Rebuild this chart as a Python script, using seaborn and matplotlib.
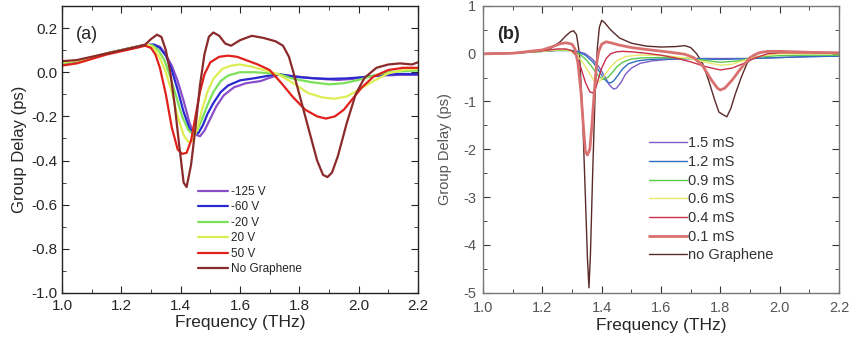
import numpy as np
import pandas as pd
import matplotlib.pyplot as plt
import seaborn as sns
from matplotlib.ticker import MultipleLocator

# ---- panel (a): gate voltage ----
a_labels = ['-125 V', '-60 V', '-20 V', '20 V', '50 V', 'No Graphene']
a_colors = ['#8A4FC8', '#2A2ACF', '#7CE05A', '#DDEE55', '#E0201B', '#8B2A2A']

a_x_m125 = [1.0, 1.05, 1.1, 1.15, 1.2, 1.25, 1.28, 1.31, 1.33, 1.345, 1.37, 1.39, 1.41, 1.43, 1.445, 1.465,
            1.48, 1.50, 1.52, 1.545, 1.58, 1.62, 1.67, 1.70, 1.73, 1.77, 1.81, 1.87, 1.93, 1.98, 2.03, 2.08,
            2.14, 2.2]
a_y_m125 = [0.04, 0.05, 0.065, 0.085, 0.1, 0.115, 0.123, 0.125, 0.115, 0.09, 0.03, -0.04, -0.13, -0.23, -0.28,
            -0.29, -0.265, -0.21, -0.155, -0.105, -0.068, -0.05, -0.04, -0.025, -0.012, -0.016, -0.022, -0.03,
            -0.035, -0.03, -0.02, -0.015, -0.012, -0.012]

a_x_m60 = [1.0, 1.05, 1.1, 1.15, 1.2, 1.25, 1.28, 1.31, 1.33, 1.35, 1.37, 1.39, 1.41, 1.43, 1.445, 1.46, 1.475,
           1.49, 1.51, 1.535, 1.56, 1.60, 1.65, 1.70, 1.73, 1.78, 1.84, 1.90, 1.96, 2.02, 2.08, 2.14, 2.2]
a_y_m60 = [0.04, 0.05, 0.065, 0.085, 0.1, 0.115, 0.123, 0.125, 0.11, 0.075, 0.01, -0.08, -0.18, -0.255, -0.28,
           -0.275, -0.24, -0.19, -0.14, -0.09, -0.06, -0.037, -0.027, -0.015, -0.008, -0.02, -0.027, -0.03,
           -0.028, -0.022, -0.012, -0.008, -0.008]

a_x_m20 = [1.0, 1.05, 1.1, 1.15, 1.2, 1.25, 1.28, 1.305, 1.325, 1.345, 1.365, 1.385, 1.405, 1.425, 1.44, 1.455,
           1.47, 1.49, 1.51, 1.535, 1.56, 1.60, 1.65, 1.70, 1.73, 1.78, 1.84, 1.90, 1.95, 2.0, 2.05, 2.1, 2.15,
           2.2]
a_y_m20 = [0.04, 0.05, 0.065, 0.085, 0.1, 0.115, 0.123, 0.122, 0.1, 0.055, -0.02, -0.11, -0.2, -0.26, -0.28,
           -0.265, -0.22, -0.15, -0.09, -0.04, -0.015, 0.0, 0.0, -0.005, -0.008, -0.03, -0.045, -0.055, -0.05,
           -0.035, -0.015, 0.0, 0.005, 0.008]

a_x_20 = [1.0, 1.05, 1.1, 1.15, 1.2, 1.25, 1.29, 1.31, 1.33, 1.35, 1.37, 1.39, 1.41, 1.425, 1.44, 1.455, 1.47,
          1.49, 1.51, 1.54, 1.57, 1.60, 1.64, 1.68, 1.73, 1.78, 1.83, 1.88, 1.92, 1.96, 2.0, 2.05, 2.1, 2.15,
          2.2]
a_y_20 = [0.045, 0.052, 0.065, 0.085, 0.1, 0.115, 0.125, 0.11, 0.065, 0.0, -0.09, -0.2, -0.285, -0.315,
          -0.31, -0.26, -0.18, -0.09, -0.03, 0.015, 0.03, 0.035, 0.025, 0.01, -0.01, -0.05, -0.095, -0.115,
          -0.12, -0.11, -0.08, -0.04, -0.005, 0.01, 0.015]

a_x_50 = [1.0, 1.05, 1.1, 1.15, 1.2, 1.25, 1.28, 1.30, 1.315, 1.33, 1.35, 1.37, 1.39, 1.405, 1.42, 1.435,
          1.45, 1.465, 1.48, 1.50, 1.53, 1.56, 1.59, 1.62, 1.66, 1.70, 1.74, 1.78, 1.82, 1.86, 1.89, 1.92,
          1.95, 1.98, 2.01, 2.05, 2.1, 2.15, 2.2]
a_y_50 = [0.03, 0.04, 0.06, 0.08, 0.095, 0.11, 0.12, 0.11, 0.08, 0.02, -0.1, -0.25, -0.35, -0.37, -0.365,
          -0.31, -0.2, -0.09, -0.01, 0.045, 0.07, 0.075, 0.07, 0.055, 0.035, 0.01, -0.05, -0.115, -0.17, -0.2,
          -0.21, -0.2, -0.17, -0.12, -0.07, -0.02, 0.01, 0.02, 0.02]

a_x_ng = [1.00, 1.05, 1.10, 1.15, 1.20, 1.25, 1.28, 1.30, 1.32, 1.335, 1.35, 1.365, 1.38, 1.395, 1.41, 1.42,
          1.435, 1.45, 1.465, 1.48, 1.495, 1.51, 1.53, 1.55, 1.57, 1.60, 1.64, 1.68, 1.72, 1.745, 1.765, 1.78,
          1.80, 1.83, 1.86, 1.88, 1.895, 1.91, 1.93, 1.96, 1.99, 2.02, 2.06, 2.10, 2.14, 2.18, 2.20]
a_y_ng = [0.05, 0.055, 0.07, 0.085, 0.10, 0.115, 0.125, 0.15, 0.17, 0.16, 0.1, 0.0, -0.15, -0.33, -0.5, -0.52,
          -0.42, -0.25, -0.06, 0.08, 0.16, 0.18, 0.165, 0.13, 0.12, 0.145, 0.165, 0.155, 0.14, 0.12, 0.07, 0.0,
          -0.1, -0.25, -0.4, -0.465, -0.475, -0.455, -0.38, -0.23, -0.1, -0.025, 0.02, 0.035, 0.04, 0.035,
          0.045]

a_xs = [a_x_m125, a_x_m60, a_x_m20, a_x_20, a_x_50, a_x_ng]
a_ys = [a_y_m125, a_y_m60, a_y_m20, a_y_20, a_y_50, a_y_ng]

# ---- panel (b): graphene conductivity ----
b_labels = ['1.5 mS', '1.2 mS', '0.9 mS', '0.6 mS', '0.4 mS', '0.1 mS', 'no Graphene']
b_colors = ['#7B5CC8', '#2E6FC0', '#5CC84A', '#E8E86A', '#C8304A', '#D87070', '#5A2A2A']
b_widths = [1.0, 1.0, 1.0, 1.0, 1.0, 2.0, 1.0]

b_x_15 = [1.0, 1.1, 1.2, 1.25, 1.3, 1.32, 1.345, 1.37, 1.39, 1.41, 1.425, 1.44, 1.45, 1.465, 1.48, 1.50, 1.53,
          1.57, 1.62, 1.7, 1.8, 1.9, 2.0, 2.1, 2.2]
b_y_15 = [0.0, 0.01, 0.05, 0.07, 0.07, 0.05, 0.0, -0.12, -0.27, -0.47, -0.65, -0.74, -0.72, -0.6, -0.43,
          -0.3, -0.2, -0.15, -0.12, -0.1, -0.1, -0.1, -0.08, -0.06, -0.05]

b_x_12 = [1.0, 1.1, 1.2, 1.25, 1.3, 1.32, 1.345, 1.37, 1.39, 1.405, 1.42, 1.43, 1.44, 1.455, 1.47, 1.49, 1.52,
          1.56, 1.6, 1.7, 1.8, 1.9, 2.0, 2.1, 2.2]
b_y_12 = [0.0, 0.01, 0.05, 0.07, 0.065, 0.04, -0.03, -0.17, -0.35, -0.5, -0.6, -0.61, -0.57, -0.45, -0.32,
          -0.21, -0.15, -0.12, -0.11, -0.1, -0.12, -0.1, -0.08, -0.06, -0.05]

b_x_09 = [1.0, 1.1, 1.2, 1.25, 1.29, 1.31, 1.33, 1.35, 1.37, 1.39, 1.405, 1.42, 1.435, 1.45, 1.47, 1.5, 1.54,
          1.6, 1.7, 1.8, 1.86, 1.92, 2.0, 2.1, 2.2]
b_y_09 = [0.0, 0.01, 0.05, 0.075, 0.07, 0.04, -0.03, -0.14, -0.3, -0.47, -0.54, -0.5, -0.4, -0.28, -0.18,
          -0.11, -0.085, -0.08, -0.1, -0.18, -0.15, -0.07, -0.04, -0.03, -0.03]

b_x_06 = [1.0, 1.1, 1.2, 1.25, 1.28, 1.30, 1.32, 1.34, 1.36, 1.375, 1.385, 1.395, 1.41, 1.43, 1.45, 1.48,
          1.52, 1.57, 1.63, 1.7, 1.76, 1.8, 1.84, 1.88, 1.93, 2.0, 2.1, 2.2]
b_y_06 = [0.0, 0.01, 0.05, 0.08, 0.08, 0.04, -0.06, -0.22, -0.42, -0.57, -0.6, -0.57, -0.45, -0.28, -0.15,
          -0.06, -0.03, -0.03, -0.05, -0.1, -0.19, -0.24, -0.22, -0.14, -0.05, 0.0, 0.0, 0.0]

b_x_04 = [1.0, 1.1, 1.2, 1.25, 1.28, 1.30, 1.315, 1.33, 1.345, 1.36, 1.37, 1.38, 1.39, 1.40, 1.415, 1.43,
          1.45, 1.47, 1.5, 1.55, 1.6, 1.65, 1.7, 1.75, 1.8, 1.84, 1.88, 1.92, 1.96, 2.0, 2.1, 2.2]
b_y_04 = [0.0, 0.01, 0.06, 0.1, 0.1, 0.06, -0.05, -0.3, -0.6, -0.8, -0.82, -0.72, -0.5, -0.3, -0.1, 0.0,
          0.04, 0.05, 0.04, 0.01, -0.03, -0.09, -0.17, -0.27, -0.34, -0.3, -0.2, -0.08, 0.0, 0.02, 0.02, 0.01]

b_x_01 = [1.0, 1.1, 1.2, 1.23, 1.26, 1.28, 1.30, 1.31, 1.32, 1.33, 1.338, 1.345, 1.352, 1.36, 1.367, 1.375,
          1.383, 1.39, 1.40, 1.415, 1.43, 1.46, 1.5, 1.55, 1.62, 1.68, 1.71, 1.74, 1.77, 1.79, 1.80, 1.815,
          1.84, 1.87, 1.9, 1.93, 1.96, 2.0, 2.1, 2.2]
b_y_01 = [0.0, 0.01, 0.08, 0.14, 0.21, 0.23, 0.2, 0.1, -0.2, -0.8, -1.5, -2.05, -2.12, -2.0, -1.5, -0.8,
          -0.2, 0.05, 0.2, 0.25, 0.23, 0.18, 0.13, 0.09, 0.04, -0.01, -0.08, -0.25, -0.55, -0.72, -0.76, -0.72,
          -0.55, -0.3, -0.08, 0.02, 0.05, 0.05, 0.03, 0.02]

b_x_ng = [1.0, 1.1, 1.2, 1.23, 1.26, 1.28, 1.295, 1.305, 1.315, 1.325, 1.335, 1.345, 1.352, 1.357, 1.362,
          1.37, 1.378, 1.385, 1.392, 1.40, 1.41, 1.43, 1.46, 1.5, 1.55, 1.6, 1.65, 1.68, 1.70, 1.72, 1.74,
          1.76, 1.78, 1.795, 1.81, 1.822, 1.835, 1.85, 1.87, 1.89, 1.91, 1.94, 1.97, 2.0, 2.1, 2.2]
b_y_ng = [0.0, 0.01, 0.06, 0.12, 0.25, 0.38, 0.46, 0.48, 0.4, 0.0, -1.2, -3.0, -4.3, -4.9, -4.2, -2.4, -0.8,
          0.1, 0.55, 0.7, 0.65, 0.5, 0.33, 0.22, 0.16, 0.14, 0.15, 0.17, 0.13, 0.0, -0.2, -0.55, -0.95, -1.22,
          -1.28, -1.32, -1.15, -0.85, -0.5, -0.2, -0.03, 0.03, 0.05, 0.05, 0.03, 0.02]

b_xs = [b_x_15, b_x_12, b_x_09, b_x_06, b_x_04, b_x_01, b_x_ng]
b_ys = [b_y_15, b_y_12, b_y_09, b_y_06, b_y_04, b_y_01, b_y_ng]


def long_df(labels, xs, ys):
    frames = [pd.DataFrame({'freq': x, 'delay': y, 'series': lab}) for lab, x, y in zip(labels, xs, ys)]
    return pd.concat(frames, ignore_index=True)


def fmt(decimals):
    def f(v, p):
        if abs(v) < 1e-9:
            v = 0.0
        return f'{v:.{decimals}f}'
    return plt.FuncFormatter(f)


sns.set_style('ticks')
plt.rcParams['font.family'] = ['Liberation Sans', 'DejaVu Sans']
plt.rcParams['axes.unicode_minus'] = False

fig = plt.figure(figsize=(8.53, 3.42), dpi=100)
ax_a = fig.add_axes([0.0727, 0.1433, 0.4173, 0.8392])
ax_b = fig.add_axes([0.5663, 0.1447, 0.4173, 0.8378])

# panel (a)
df_a = long_df(a_labels, a_xs, a_ys)
sns.lineplot(data=df_a, x='freq', y='delay', hue='series', hue_order=a_labels,
             palette=dict(zip(a_labels, a_colors)), linewidth=1.6, ax=ax_a)
ax_a.set_xlim(1.0, 2.2)
ax_a.set_ylim(-1.0, 0.3)
ax_a.xaxis.set_major_locator(MultipleLocator(0.2))
ax_a.xaxis.set_minor_locator(MultipleLocator(0.1))
ax_a.set_yticks(np.arange(-1.0, 0.21, 0.2))
ax_a.yaxis.set_minor_locator(MultipleLocator(0.1))
ax_a.yaxis.set_major_formatter(fmt(1))
ax_a.xaxis.set_major_formatter(fmt(1))
ax_a.set_xlabel('Frequency (THz)', fontsize=12.5, labelpad=2)
ax_a.set_ylabel('Group Delay (ps)', fontsize=12, labelpad=3)
ax_a.tick_params(which='both', direction='in', top=True, right=True, labelsize=11)
ax_a.tick_params(which='major', length=5)
ax_a.tick_params(which='minor', length=3)
ax_a.tick_params(axis='x', pad=4)
for s in ax_a.spines.values():
    s.set_color('#222222')
    s.set_linewidth(1.0)
ax_a.text(0.04, 0.93, '(a)', transform=ax_a.transAxes, fontsize=13, va='top')
ax_a.legend(loc='upper left', bbox_to_anchor=(0.37, 0.39), frameon=False, fontsize=8.5,
            handlelength=2.5, handletextpad=0.3, labelspacing=0.3, borderaxespad=0)

# panel (b)
df_b = long_df(b_labels, b_xs, b_ys)
order_b = ['no Graphene', '1.5 mS', '1.2 mS', '0.9 mS', '0.6 mS', '0.4 mS', '0.1 mS']
for lab in order_b:
    i = b_labels.index(lab)
    sns.lineplot(data=df_b[df_b['series'] == lab], x='freq', y='delay', color=b_colors[i],
                 linewidth=b_widths[i], label=lab, ax=ax_b)
ax_b.set_xlim(1.0, 2.2)
ax_b.set_ylim(-5, 1)
ax_b.xaxis.set_major_locator(MultipleLocator(0.2))
ax_b.xaxis.set_minor_locator(MultipleLocator(0.1))
ax_b.yaxis.set_major_locator(MultipleLocator(1))
ax_b.yaxis.set_minor_locator(MultipleLocator(0.5))
ax_b.xaxis.set_major_formatter(fmt(1))
ax_b.yaxis.set_major_formatter(fmt(0))
ax_b.set_xlabel('Frequency (THz)', fontsize=12.5, labelpad=2)
ax_b.set_ylabel('Group Delay (ps)', fontsize=10.5, color='#555555', labelpad=8)
ax_b.tick_params(which='both', direction='in', top=True, right=True, labelsize=10.5,
                 colors='#333333', labelcolor='#555555')
ax_b.tick_params(which='major', length=5)
ax_b.tick_params(which='minor', length=3)
ax_b.tick_params(axis='x', pad=6)
ax_b.tick_params(axis='y', pad=5)
for s in ax_b.spines.values():
    s.set_color('#777777')
    s.set_linewidth(1.0)
ax_b.text(0.04, 0.93, '(b)', transform=ax_b.transAxes, fontsize=13, fontweight='bold', va='top')
h, l = ax_b.get_legend_handles_labels()
hd = dict(zip(l, h))
ax_b.legend([hd[k] for k in b_labels], b_labels, loc='upper left', bbox_to_anchor=(0.45, 0.565),
            frameon=False, fontsize=10.5, handlelength=2.6, handletextpad=0.1, labelspacing=0.32,
            borderaxespad=0, labelcolor='#333333')

fig.savefig('out.png', dpi=100)
